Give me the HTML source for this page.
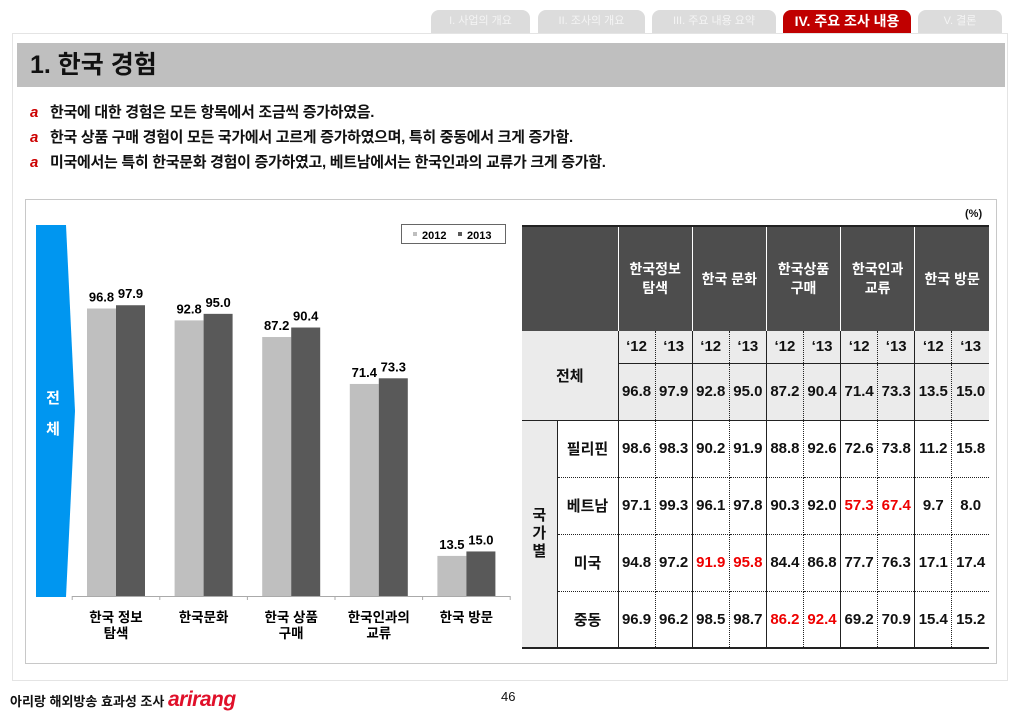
<!DOCTYPE html>
<html><head><meta charset="utf-8">
<style>
*{margin:0;padding:0;box-sizing:border-box}
body{width:1023px;height:708px;background:#fff;position:relative;overflow:hidden;font-family:"Liberation Sans","Noto Sans CJK KR",sans-serif;color:#111}
.abs{position:absolute}
.tab{position:absolute;top:10px;height:23px;border-radius:8px 8px 0 0;background:#dcdcdc;color:#f4f4f4;font-size:11px;text-align:center;line-height:23px}
.bul{position:absolute;left:30px;font-size:15px;font-weight:bold;letter-spacing:-0.3px}
.bul span{color:#c00;font-style:italic;margin-right:12px}
table{border-collapse:collapse;position:absolute;left:522px;top:225px;width:467px;font-weight:bold;table-layout:fixed}
td{text-align:center;font-size:15px;padding:0;white-space:nowrap}
.h td{background:#4d4d4d;color:#fff;font-size:14px;line-height:19px;border-left:1.5px solid #fff}
.h td:first-child{border-left:none}
.g{background:#ebebeb}
.r{color:#e00}
</style></head><body>
<div class="tab" style="left:431px;width:99px">I. 사업의 개요</div>
<div class="tab" style="left:538px;width:107px">II. 조사의 개요</div>
<div class="tab" style="left:652px;width:124px">III. 주요 내용 요약</div>
<div class="tab" style="left:783px;width:128px;background:#c00000;color:#fff;font-size:14px;font-weight:bold">IV. 주요 조사 내용</div>
<div class="tab" style="left:918px;width:84px">V. 결론</div>
<div class="abs" style="left:12px;top:33px;width:996px;height:648px;border:1px solid #e4e4e4"></div>
<div class="abs" style="left:17px;top:43px;width:988px;height:44px;background:#bfbfbf;font-size:25px;font-weight:bold;line-height:44px;padding-left:13px">1. 한국 경험</div>
<div class="bul" style="top:101px"><span>a</span>한국에 대한 경험은 모든 항목에서 조금씩 증가하였음.</div>
<div class="bul" style="top:126px"><span>a</span>한국 상품 구매 경험이 모든 국가에서 고르게 증가하였으며, 특히 중동에서 크게 증가함.</div>
<div class="bul" style="top:151px"><span>a</span>미국에서는 특히 한국문화 경험이 증가하였고, 베트남에서는 한국인과의 교류가 크게 증가함.</div>
<div class="abs" style="left:25px;top:199px;width:972px;height:465px;border:1.5px solid #c8c8c8"></div>

<svg class="abs" style="left:0;top:0" width="1023" height="708" id="chart">
<polygon points="36,225 66,225 75,411 66,597 36,597" fill="#0096f0"/>
<text x="53" y="403" fill="#fff" font-size="15" font-weight="bold" text-anchor="middle">전</text>
<text x="53" y="434" fill="#fff" font-size="15" font-weight="bold" text-anchor="middle">체</text>
<rect x="401.5" y="224.5" width="104" height="19" fill="#fff" stroke="#666"/>
<rect x="413" y="232" width="4" height="4" fill="#bfbfbf"/><text x="422" y="239" font-size="11" font-weight="bold">2012</text>
<rect x="458" y="232" width="4" height="4" fill="#595959"/><text x="467" y="239" font-size="11" font-weight="bold">2013</text>
<line x1="72" y1="596.5" x2="510" y2="596.5" stroke="#aaa"/>
</svg>

<table>
<colgroup><col style="width:35px"><col style="width:61px"><col span="10" style="width:37.1px"></colgroup>
<tbody id="tb">
<tr class="h" style="height:105px;border-top:2px solid #222"><td colspan="2"></td><td colspan="2">한국정보<br>탐색</td><td colspan="2">한국 문화</td><td colspan="2">한국상품<br>구매</td><td colspan="2">한국인과<br>교류</td><td colspan="2">한국 방문</td></tr>
<tr class="g" style="height:32px"><td colspan="2" rowspan="2" style="border-bottom:1.5px solid #222">전체</td>
<td style="border-left:1.5px solid #222;border-right:1px dotted #222">‘12</td><td style="border-right:1.5px solid #222">‘13</td><td style="border-right:1px dotted #222">‘12</td><td style="border-right:1.5px solid #222">‘13</td><td style="border-right:1px dotted #222">‘12</td><td style="border-right:1.5px solid #222">‘13</td><td style="border-right:1px dotted #222">‘12</td><td style="border-right:1.5px solid #222">‘13</td><td style="border-right:1px dotted #222">‘12</td><td>‘13</td></tr>
</tbody>
</table>

<div class="abs" style="left:10px;top:688px;font-size:13px;font-weight:bold">아리랑 해외방송 효과성 조사 <span style="color:#e0102a;font-style:italic;font-size:21px;letter-spacing:-0.5px;font-family:'Liberation Sans',sans-serif">arirang</span></div>
<div class="abs" style="left:501px;top:689px;font-size:13px">46</div>

<script>
const categories=["한국 정보|탐색","한국문화","한국 상품|구매","한국인과의|교류","한국 방문"];
const series2012=[96.8,92.8,87.2,71.4,13.5];
const series2013=[97.9,95.0,90.4,73.3,15.0];
const rowLabels=["필리핀","베트남","미국","중동"];
const rowPH=[98.6,98.3,90.2,91.9,88.8,92.6,72.6,73.8,11.2,15.8];
const rowVN=[97.1,99.3,96.1,97.8,90.3,92.0,57.3,67.4,9.7,8.0];
const rowUS=[94.8,97.2,91.9,95.8,84.4,86.8,77.7,76.3,17.1,17.4];
const rowME=[96.9,96.2,98.5,98.7,86.2,92.4,69.2,70.9,15.4,15.2];
const highlights=[[],[6,7],[2,3],[4,5]];

const NS="http://www.w3.org/2000/svg",svg=document.getElementById('chart');
const y0=596,scale=2.97,x0=116,step=87.6,bw=29;
const yS=v=>y0-v*scale, xS=i=>x0+i*step;
function mk(tag,a){const e=document.createElementNS(NS,tag);for(const k in a)e.setAttribute(k,a[k]);svg.appendChild(e);return e;}
for(let i=0;i<categories.length;i++){
  const cx=xS(i);
  const b1=mk('rect',{x:cx-bw,y:yS(series2012[i]),width:bw,height:series2012[i]*scale,fill:'#bfbfbf'});
  
  
  const b2=mk('rect',{x:cx,y:yS(series2013[i]),width:bw,height:series2013[i]*scale,fill:'#595959'});
  
  
  const t1=mk('text',{x:cx-bw/2,y:yS(series2012[i])-7,'font-size':13,'font-weight':'bold','text-anchor':'middle'});t1.textContent=series2012[i].toFixed(1);
  
  
  const t2=mk('text',{x:cx+bw/2,y:yS(series2013[i])-7,'font-size':13,'font-weight':'bold','text-anchor':'middle'});t2.textContent=series2013[i].toFixed(1);
  
  
  mk('line',{x1:cx-step/2,y1:y0,x2:cx-step/2,y2:y0+4,stroke:'#aaa'});
  categories[i].split('|').forEach((s,j)=>{const t=mk('text',{x:cx,y:622+j*16,'font-size':13.5,'font-weight':'bold','text-anchor':'middle'});t.textContent=s;
    
    });
}
mk('line',{x1:xS(4)+step/2,y1:y0,x2:xS(4)+step/2,y2:y0+4,stroke:'#aaa'});

// table
const tb=document.getElementById('tb');
const totals=series2012.flatMap((v,i)=>[v,series2013[i]]);
let tr=document.createElement('tr');tr.className='g';tr.style.height='57px';
totals.forEach((v,j)=>{const td=document.createElement('td');td.textContent=v.toFixed(1);
  td.style.borderLeft=j==0?'1.5px solid #222':'';td.style.borderRight=j%2==0?'1px dotted #222':(j<9?'1.5px solid #222':'');td.style.borderBottom='1.5px solid #222';td.style.borderTop='1.5px solid #222';tr.appendChild(td);});
tb.appendChild(tr);
[rowPH,rowVN,rowUS,rowME].forEach((row,r)=>{
  const tr=document.createElement('tr');tr.style.height='57px';
  if(r==0){const td=document.createElement('td');td.rowSpan=4;td.className='g';td.innerHTML='국<br>가<br>별';td.style.lineHeight='18px';td.style.borderBottom='2px solid #222';td.style.borderRight='1.5px solid #222';tr.appendChild(td);}
  const lb=document.createElement('td');lb.textContent=rowLabels[r];lb.style.borderBottom=r<3?'1px dotted #222':'2px solid #222';tr.appendChild(lb);
  row.forEach((v,j)=>{const td=document.createElement('td');td.textContent=v.toFixed(1);
    if(highlights[r].includes(j))td.className='r';
    td.style.borderLeft=j==0?'1.5px solid #222':'';td.style.borderRight=j%2==0?'1px dotted #222':(j<9?'1.5px solid #222':'');
    td.style.borderBottom=r<3?'1px dotted #222':'2px solid #222';tr.appendChild(td);});
  tb.appendChild(tr);
});
</script>
<div class="abs" style="left:965px;top:208px;font-size:11px;font-weight:bold">(%)</div>
</body></html>
